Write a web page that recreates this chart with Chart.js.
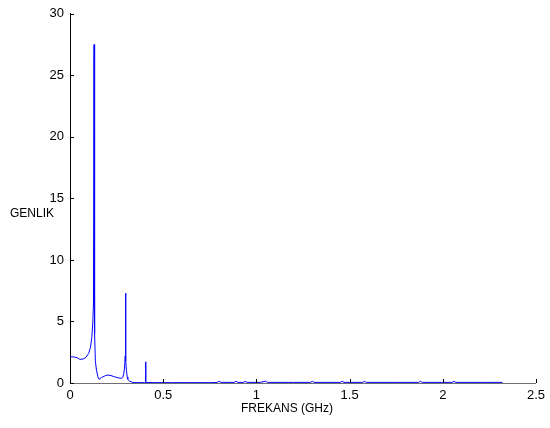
<!DOCTYPE html>
<html>
<head>
<meta charset="utf-8">
<script src="https://cdn.jsdelivr.net/npm/chart.js@4"></script>
<style>
  body { margin: 0; background: #fff; }
  canvas { display: block; }
</style>
</head>
<body>
<canvas id="spectrum" width="550" height="428"></canvas>
<script>
// frequency (GHz) and amplitude
const freq = [0, 0.02, 0.04, 0.053, 0.07, 0.085, 0.1, 0.11, 0.117, 0.122, 0.126, 0.129, 0.132, 0.136,
  0.142, 0.15, 0.156, 0.17, 0.19, 0.204, 0.22, 0.24, 0.26, 0.275, 0.283, 0.289, 0.293, 0.296, 0.298, 0.3,
  0.303, 0.307, 0.31, 0.32, 0.337, 0.36, 0.4, 0.405, 0.406, 0.407, 0.412, 0.45, 0.55, 0.65, 0.75, 0.79,
  0.8, 0.81, 0.88, 0.89, 0.9, 0.93, 0.94, 0.95, 1.02, 1.05, 1.06, 1.2, 1.29, 1.3, 1.31, 1.45, 1.46, 1.47,
  1.57, 1.58, 1.59, 1.76, 1.87, 1.88, 1.89, 2.0, 2.05, 2.06, 2.07, 2.2, 2.32];
const amp = [2.13, 2.12, 2.05, 1.92, 1.95, 2.07, 2.4, 2.9, 3.7, 4.8, 6.5, 27.5, 4, 1.8,
  1.05, 0.5, 0.3, 0.45, 0.6, 0.65, 0.6, 0.5, 0.42, 0.38, 0.45, 0.8, 1.3, 2.2, 7.3, 1.8,
  1.0, 0.5, 0.3, 0.15, 0.04, 0.03, 0.03, 0.04, 1.72, 0.04, 0.04, 0.03, 0.03, 0.03, 0.03, 0.04,
  0.15, 0.05, 0.05, 0.14, 0.05, 0.05, 0.13, 0.05, 0.05, 0.15, 0.05, 0.05, 0.05, 0.14, 0.05, 0.05, 0.14, 0.05,
  0.05, 0.13, 0.05, 0.05, 0.05, 0.14, 0.05, 0.05, 0.05, 0.13, 0.05, 0.05, 0.05];

const xTicks = [0, 0.5, 1, 1.5, 2, 2.5];
const yTicks = [0, 5, 10, 15, 20, 25, 30];
const xTitle = 'FREKANS (GHz)';
const yTitle = 'GENLIK';

const points = freq.map((f, i) => ({ x: f, y: amp[i] }));

const axisDecor = {
  id: 'axisDecor',
  afterDraw(chart) {
    const ctx = chart.ctx;
    const xs = chart.scales.x, ys = chart.scales.y;
    const a = chart.chartArea;
    ctx.save();
    ctx.strokeStyle = '#000';
    ctx.lineWidth = 1;
    ctx.beginPath();
    xTicks.forEach(v => {
      const px = Math.round(xs.getPixelForValue(v)) + 0.5;
      ctx.moveTo(px, a.bottom);
      ctx.lineTo(px, a.bottom - 4);
    });
    yTicks.forEach(v => {
      const py = Math.round(ys.getPixelForValue(v)) + 0.5;
      ctx.moveTo(a.left, py);
      ctx.lineTo(a.left + 4, py);
    });
    ctx.stroke();
    ctx.fillStyle = '#000';
    ctx.font = '12px "Liberation Sans", Arial, sans-serif';
    ctx.textBaseline = 'middle';
    ctx.textAlign = 'left';
    ctx.fillText(yTitle, 10, 214);
    ctx.textAlign = 'center';
    ctx.fillText(xTitle, 287, 409);
    ctx.restore();
  }
};

new Chart(document.getElementById('spectrum').getContext('2d'), {
  type: 'line',
  data: {
    datasets: [{
      data: points,
      borderColor: '#0000ff',
      borderWidth: 1,
      pointRadius: 0,
      tension: 0,
      fill: false
    }]
  },
  options: {
    responsive: false,
    animation: false,
    devicePixelRatio: 1,
    layout: { padding: { top: 12, right: 10, left: 0, bottom: 0 } },
    plugins: { legend: { display: false }, tooltip: { enabled: false } },
    scales: {
      x: {
        type: 'linear',
        min: 0,
        max: 2.5,
        afterBuildTicks: s => { s.ticks = xTicks.map(v => ({ value: v })); },
        afterFit: s => { s.height = 45; },
        grid: { drawOnChartArea: false, drawTicks: false },
        border: { display: true, color: '#6e6e6e', width: 1 },
        ticks: {
          padding: 5,
          color: '#000',
          font: { family: '"Liberation Sans", Arial, sans-serif', size: 13 },
          maxRotation: 0,
          callback: v => String(v)
        }
      },
      y: {
        min: 0,
        max: 30,
        afterBuildTicks: s => { s.ticks = yTicks.map(v => ({ value: v })); },
        afterFit: s => { s.width = 70; },
        grid: { drawOnChartArea: false, drawTicks: false },
        border: { display: true, color: '#000', width: 1 },
        ticks: {
          padding: 6,
          color: '#000',
          font: { family: '"Liberation Sans", Arial, sans-serif', size: 13 },
          callback: v => String(v)
        }
      }
    }
  },
  plugins: [axisDecor]
});
</script>
</body>
</html>
